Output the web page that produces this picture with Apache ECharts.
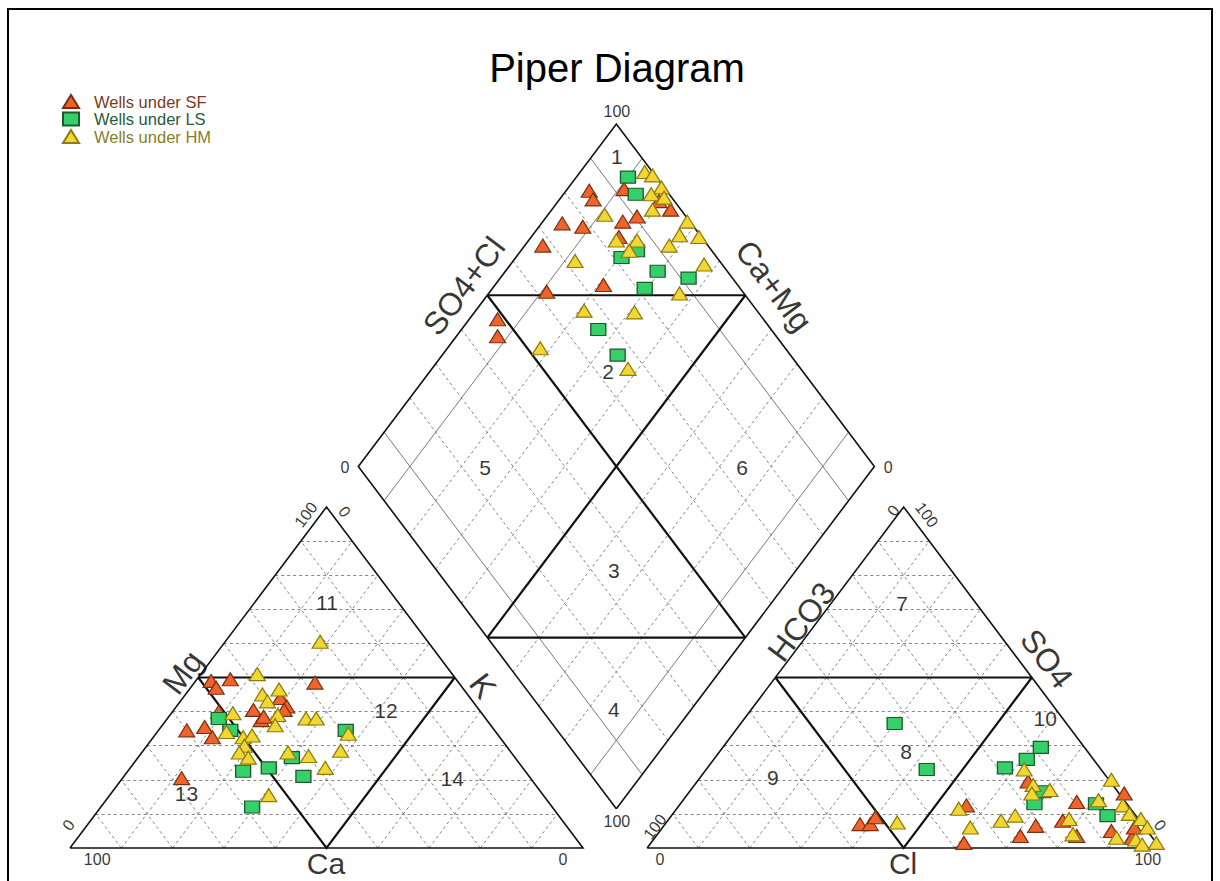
<!DOCTYPE html>
<html>
<head>
<meta charset="utf-8">
<title>Piper Diagram</title>
<script src="https://cdn.jsdelivr.net/npm/echarts@6/dist/echarts.min.js"></script>
<style>
  html, body { margin: 0; padding: 0; background: #fff; }
  #chart { width: 1220px; height: 881px; }
</style>
</head>
<body>
<div id="chart"></div>
<script>
// ---- data ----
// cation triangle: [Ca %, Mg %]  (Na+K = the rest)
const sfCation = [[48,49],[48,47],[44,49.5],[28,48.5],[51,40],[60,34.5],[56,35.5],[56,32.5],
  [44,40.5],[44,37.5],[43,38.5],[37,44],[37,41.5],[38,40.5],[68,20.5]];
const lsCation = [[52,38],[51.5,34.5],[55,22.5],[49.5,23.5],[43.5,26.5],[44,21],[58.5,12],[29,34.5]];
const hmCation = [[38,51],[40,45],[36,46.5],[40,43],[48.5,39.5],[40,39],[42,36],[52.5,34],[50,32.5],
  [48,33],[51,30],[53,28],[52,26.5],[43.5,28],[40,27],[21,60.5],[35,38],[53.5,15.5],[33,38],
  [29,33.5],[33,28.5],[38.5,23.5]];

// anion triangle: [Cl %, SO4 %]  (HCO3 = the rest)
const sfAnion = [[38,7],[40,7],[40,9],[56,12.5],[61,1.5],[71,3.5],[72.5,6.5],[64.5,19.5],[77,13.5],
  [77,8],[82,3.5],[85,16],[88,5],[93,3],[92,6]];
const lsAnion = [[30,36.5],[43,23],[58,23.5],[61,26],[62,29.5],[69,13],[69,16.5],[81,13],[85,9.5]];
const hmAnion = [[45,7.5],[62,23],[66,18.5],[67,16],[70,17],[55,11.5],[60,6],[65,8],[67,9.5],[78,8.5],
  [81,4],[81,14],[80.5,20],[86.5,12.5],[89,10],[92,8.5],[94.5,6],[90,3],[94,2.5],[96,1],[98.5,1.5]];

// diamond: [SO4+Cl %, Ca+Mg %]
const sfDiamond = [[85,95.5],[84.5,93.5],[92,89],[75,96],[78.5,91.5],[87,84.5],[90.5,82.5],[98,77],
  [97,80.5],[68,96.5],[84,83],[62,89],[74,79],[48.5,94.5],[46,92]];
const lsDiamond = [[94.5,90],[93.5,86],[81.5,79.5],[85.5,77.5],[86.5,70.5],[81.5,70.5],[91.5,63.5],
  [66.5,73.5],[66.5,66]];
const hmDiamond = [[98.5,87.5],[99.5,85.5],[99.5,82],[96.5,83],[98.5,80],[94.5,80.5],[84.5,89],
  [99.5,72],[96,71.5],[99.5,67.5],[83,83],[87,79],[84,79],[92.5,72],[72,88],[96.5,62.5],[87.5,63],
  [66.5,79],[76,69],[52.5,82],[66.5,62]];

const seriesNames = ['Wells under SF', 'Wells under LS', 'Wells under HM'];
const ticks = [10, 20, 30, 40, 50, 60, 70, 80, 90];

// ---- layout: triangle side = 100 units wide, 100 units high ----
const RIGHT_X0 = 112.5;
const DIA_B = [106.5, 11.5];
const DIA_HW = 50.3, DIA_HH = 100.4;

function tri(x0, r, t) { return [x0 + r + t / 2, t]; }
function cationXY(d) { return tri(0, 100 - d[0] - d[1], d[1]); }
function anionXY(d) { return tri(RIGHT_X0, d[0], d[1]); }
function dia(s, c) {
  s /= 100; c /= 100;
  return [DIA_B[0] + DIA_HW * (s - c), DIA_B[1] + DIA_HH * (s + c)];
}

const dashed = [], thin = [], edges = [], zones = [];
[0, RIGHT_X0].forEach(function (x0) {
  ticks.forEach(function (k) {
    if (k === 50) return;
    dashed.push({ coords: [tri(x0, 0, k), tri(x0, 100 - k, k)] });
    dashed.push({ coords: [tri(x0, k, 0), tri(x0, k, 100 - k)] });
    dashed.push({ coords: [tri(x0, 100 - k, 0), tri(x0, 0, 100 - k)] });
  });
  edges.push({ coords: [tri(x0, 0, 0), tri(x0, 100, 0), tri(x0, 0, 100), tri(x0, 0, 0)] });
  zones.push({ coords: [tri(x0, 0, 50), tri(x0, 50, 50)] });
  zones.push({ coords: [tri(x0, 0, 50), tri(x0, 50, 0), tri(x0, 50, 50)] });
});
ticks.forEach(function (k) {
  const a = { coords: [dia(k, 0), dia(k, 100)] };
  const b = { coords: [dia(0, k), dia(100, k)] };
  if (k === 50) { zones.push(a, b); }
  else if (k === 10 || k === 90) { thin.push(a, b); }
  else { dashed.push(a, b); }
});
edges.push({ coords: [dia(0, 0), dia(100, 0), dia(100, 100), dia(0, 100), dia(0, 0)] });
zones.push({ coords: [dia(50, 100), dia(100, 50)] });
zones.push({ coords: [dia(0, 50), dia(50, 0)] });

// text placed in plot units: [text, x, y, rotate, size]
const textLayout = [
  ['Mg', 22.0, 51.5, 53, 32], ['K', 80.5, 47.5, -53, 32], ['Ca', 49.9, -4.4, 0, 30],
  ['HCO3', 142.6, 66.3, 53, 32], ['SO4', 190.4, 55.5, -53, 32], ['Cl', 162.4, -4.4, 0, 30],
  ['SO4+Cl', 76.8, 164.8, 53, 32], ['Ca+Mg', 137.2, 164.8, -53, 32],
  ['100', 106.6, 216.1, 0, 16], ['0', 53.6, 111.7, 0, 16], ['0', 159.5, 111.7, 0, 16], ['100', 106.6, 7.9, 0, 16],
  ['100', 5.3, -3.5, 0, 16], ['0', 96.1, -3.5, 0, 16], ['0', -0.3, 6.7, 53, 16], ['100', 46.0, 97.7, 53, 16],
  ['0', 53.5, 98.6, -53, 16],
  ['0', 115.0, -3.5, 0, 16], ['100', 210.1, -3.5, 0, 16], ['100', 114.0, 6.2, 53, 16], ['0', 160.5, 98.9, 53, 16],
  ['100', 167.0, 97.7, -53, 16], ['0', 212.5, 6.7, -53, 16],
  ['1', 106.6, 202.9, 0, 21], ['2', 104.9, 139.6, 0, 21], ['3', 106.0, 81.5, 0, 21], ['4', 106.0, 40.5, 0, 21],
  ['5', 80.9, 111.7, 0, 21], ['6', 131.0, 111.7, 0, 21], ['7', 162.2, 71.6, 0, 21], ['8', 163.0, 28.2, 0, 21],
  ['9', 137.0, 20.7, 0, 21], ['10', 190.1, 38.1, 0, 21], ['11', 50.1, 72.1, 0, 21], ['12', 61.6, 40.2, 0, 21],
  ['13', 22.7, 16.0, 0, 21], ['14', 74.5, 20.5, 0, 21]
];

const FONT = '"Liberation Sans", Arial, sans-serif';

function pointSeries(name, symbol, size, fill, border, cat, an, dm) {
  return {
    name: name,
    type: 'scatter',
    symbol: symbol,
    symbolSize: size,
    z: 10,
    itemStyle: { color: fill, borderColor: border, borderWidth: 1.2, opacity: 1 },
    data: cat.map(cationXY).concat(an.map(anionXY))
      .concat(dm.map(function (d) { return dia(d[0], d[1]); }))
  };
}

const chart = echarts.init(document.getElementById('chart'), null, { renderer: 'svg' });
chart.setOption({
  animation: false,
  backgroundColor: '#fff',
  grid: { left: 0, right: 0, top: 0, bottom: 0 },
  xAxis: { type: 'value', min: -70 / 5.13, max: 1150 / 5.13, show: false },
  yAxis: { type: 'value', min: -33 / 3.41, max: 848 / 3.41, show: false },
  graphic: [
    { type: 'rect', shape: { x: 8, y: 9, width: 1204, height: 900 },
      style: { fill: 'none', stroke: '#000', lineWidth: 2 }, z: 100 },
    { type: 'text', x: 617, y: 68,
      style: { text: 'Piper Diagram', font: '40px ' + FONT, fill: '#000', align: 'center', verticalAlign: 'middle' } }
  ],
  legend: {
    left: 62, top: 93, orient: 'vertical', padding: 0, itemGap: 0.5, itemWidth: 16, itemHeight: 13,
    textStyle: { fontSize: 16.5, lineHeight: 16, fontFamily: FONT, padding: [0, 0, 0, 10] },
    data: [
      { name: seriesNames[0], textStyle: { color: '#7a3c1e' } },
      { name: seriesNames[1], textStyle: { color: '#2c5b3a' } },
      { name: seriesNames[2], textStyle: { color: '#8a7d2a' } }
    ]
  },
  series: [
    { type: 'lines', coordinateSystem: 'cartesian2d', silent: true, z: 1,
      lineStyle: { color: '#666', width: 0.8, type: [3, 3], opacity: 1 }, data: dashed },
    { type: 'lines', coordinateSystem: 'cartesian2d', silent: true, z: 1,
      lineStyle: { color: '#555', width: 0.8, opacity: 1 }, data: thin },
    { type: 'lines', coordinateSystem: 'cartesian2d', polyline: true, silent: true, z: 2,
      lineStyle: { color: '#111', width: 1.6, opacity: 1 }, data: edges },
    { type: 'lines', coordinateSystem: 'cartesian2d', polyline: true, silent: true, z: 2,
      lineStyle: { color: '#111', width: 2.2, opacity: 1 }, data: zones },
    { type: 'scatter', silent: true, symbolSize: 1, z: 3,
      itemStyle: { color: 'rgba(0,0,0,0)' },
      label: { show: true, position: 'inside', formatter: '{b}', color: '#000', fontFamily: FONT },
      data: textLayout.map(function (t) {
        return { name: t[0], value: [t[1], t[2]], label: { rotate: t[3], fontSize: t[4] } };
      })
    },
    pointSeries(seriesNames[0], 'triangle', [16, 13], '#f0632b', '#7a3010', sfCation, sfAnion, sfDiamond),
    pointSeries(seriesNames[1], 'rect', [15, 12], '#35d06a', '#1d5a2c', lsCation, lsAnion, lsDiamond),
    pointSeries(seriesNames[2], 'triangle', [16, 13], '#f2d631', '#8c7a12', hmCation, hmAnion, hmDiamond)
  ]
});
</script>
</body>
</html>
